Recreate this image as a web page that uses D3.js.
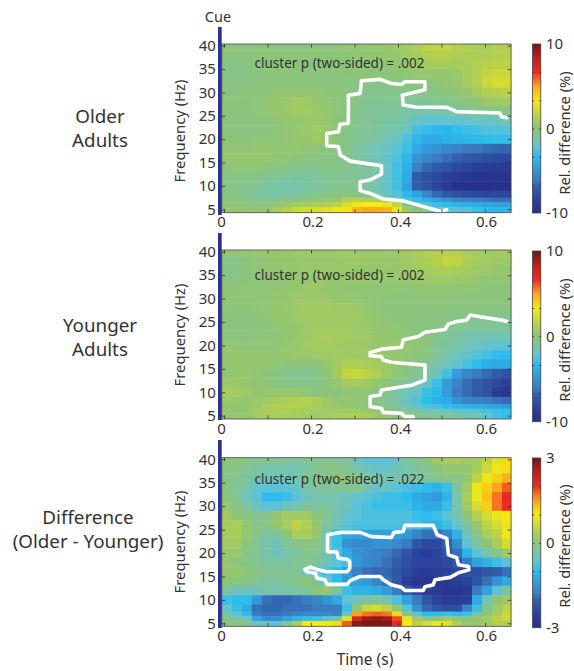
<!DOCTYPE html>
<html><head><meta charset="utf-8">
<script src="https://cdn.jsdelivr.net/npm/d3@7/dist/d3.min.js"></script>
<style>html,body{margin:0;padding:0;background:#fff}svg{display:block}text{font-family:"Noto Sans",sans-serif;fill:#333}</style>
</head><body><svg id="c" width="574" height="671"></svg>
<script>
const timeEdges=[-.005,.018,.041,.064,.087,.11,.133,.156,.179,.202,.225,.248,.271,.294,.317,.34,.363,.386,.409,.432,.455,.478,.501,.524,.547,.57,.593,.616,.639,.66];
const freqEdges=[40.35,39,37,35,33,31,29,27,25,23,21,19,17,15,13,11,9,7.5,6.5,5.5,4.3];
const xTicks=[0,.1,.2,.3,.4,.5,.6];
const xTickLabels=[0,.2,.4,.6];
const yTicks=[5,10,15,20,25,30,35,40];
const older=[
[0,0,0,0,0,0,0,0,0,0,0,0,.2,.2,.3,.3,.4,.5,.7,1,1.6,1.8,1.8,1.5,1.2,1,1,1.2,1.4],
[0,-.2,-.2,0,0,0,0,0,0,0,0,0,.1,.2,.2,.2,.3,.4,.6,.9,1.3,1.5,1.4,1.2,1.1,1.1,1.2,1.4,1.4],
[-.3,-.3,-.2,-.2,0,0,0,0,-.1,-.1,0,0,0,0,0,0,.1,.2,.4,.6,.8,.9,.9,.9,1,1.3,1.5,1.6,1.6],
[-.3,-.3,-.2,-.2,-.1,0,0,0,-.1,-.1,-.1,0,0,0,0,0,0,0,.1,.3,.4,.3,.3,.5,.9,1.3,1.8,2,2],
[-.2,-.2,-.2,-.1,0,0,0,0,0,-.1,-.1,-.1,-.2,-.2,-.3,-.4,-.3,-.2,-.2,0,0,.1,.2,.4,.8,1.3,2,2.3,2.3],
[-.1,-.1,0,0,0,.2,.2,.2,.2,.2,0,0,-.2,-.3,-.5,-.5,-.5,-.5,-.5,-.4,-.4,-.3,-.1,0,.3,.8,1.2,1.4,1.5],
[0,0,0,.1,.2,.4,.5,.7,.6,.4,.2,.1,-.2,-.4,-.6,-.7,-.7,-.7,-.8,-.8,-.7,-.6,-.5,-.3,-.1,.2,.5,.6,.7],
[0,0,0,.1,.2,.3,.5,.7,.7,.5,.3,.1,-.1,-.4,-.7,-.8,-.9,-1,-1.1,-1.3,-1.3,-1.3,-1.2,-1,-.8,-.6,-.5,-.4,-.3],
[0,-.1,-.1,0,0,.2,.3,.4,.5,.5,.3,0,-.2,-.5,-.8,-1,-1,-1.1,-1.4,-2,-2.2,-2.2,-2.2,-2.1,-2,-1.9,-1.8,-1.7,-1.6],
[-.1,-.1,-.1,-.1,0,.1,.2,.3,.5,.7,.5,.1,-.3,-.6,-.9,-1,-1.2,-1.3,-1.9,-2.8,-3.2,-3.4,-3.6,-3.3,-3,-2.8,-2.6,-2.5,-2.4],
[0,0,0,.1,.1,.1,.2,.3,.4,.6,.3,0,-.4,-.7,-1,-1.1,-1.5,-1.9,-2.6,-3.5,-4,-4,-3.7,-3.6,-3.5,-3.4,-3.3,-3.2,-3.2],
[.2,.2,.2,.3,.3,.3,.3,.3,.2,.1,0,-.2,-.5,-1,-1.4,-1.6,-1.9,-2.3,-3,-4,-4.6,-5,-5.4,-5.7,-6,-6.2,-6.4,-6.6,-6.7],
[.3,.4,.4,.4,.3,.2,.1,0,-.1,-.2,-.3,-.4,-.5,-.9,-1.2,-1.5,-2,-2.6,-3.5,-4.8,-5.5,-6,-6.4,-6.8,-7.1,-7.4,-7.7,-7.9,-8],
[0,.1,.1,.1,0,-.2,-.3,-.5,-.6,-.5,-.4,-.4,-.5,-.8,-1,-1.2,-1.9,-2.8,-3.8,-5.8,-6.6,-7,-7.4,-7.9,-8.3,-8.6,-8.8,-8.9,-9],
[-.3,-.3,-.3,-.4,-.6,-.8,-.9,-1,-1,-.9,-.7,-.6,-.7,-.8,-1,-1.3,-1.9,-2.8,-4,-7,-7.6,-8,-8.6,-9,-9.3,-9.5,-9.6,-9.6,-9.6],
[-.3,-.4,-.5,-.8,-1,-1.2,-1.3,-1.2,-1.1,-1,-.8,-.7,-.6,-.7,-1,-1.4,-2,-2.9,-4.2,-7,-7.6,-8.2,-9,-9.8,-10,-10,-10,-9.8,-9.8],
[-.2,-.4,-.5,-.8,-1.1,-1.2,-1.1,-1,-.8,-.6,-.4,-.3,-.3,-.4,-.7,-1.1,-1.7,-2.5,-3.5,-4.2,-5.5,-6.6,-7.2,-7.5,-7.8,-8,-8.1,-8.1,-8.1],
[-.1,-.2,-.3,-.5,-.6,-.5,-.3,-.1,0,.2,.3,.4,1.4,1.6,1.4,1.2,.7,-1.2,-2.5,-3.2,-3.8,-4.4,-5,-5.5,-5.8,-6,-6.2,-6.4,-6.4],
[0,0,0,-.1,-.1,.2,.5,.7,.9,1.1,1.2,1.6,2.4,3,3.3,3.3,3,1.8,-.7,-1.8,-2.6,-3,-3.3,-3.6,-3.8,-4,-4.2,-4.3,-4.3],
[.3,.3,.2,.2,.3,.8,1.5,2,2.2,2.4,2.6,3,3.5,4.5,4.8,4.8,4.6,3,.8,0,-.9,-1.7,-2,-2.3,-2.5,-3,-3.4,-3.5,-3.5]];
const younger=[
[.3,.2,.2,.3,.4,.4,.4,.5,.5,.5,.5,.6,.6,.6,.5,.5,.5,.6,.8,1,1.2,1.3,1.4,1.4,1,.8,.7,.7,.8],
[-.3,-.3,0,.1,.2,.3,.4,.4,.5,.5,.5,.5,.6,.6,.5,.5,.5,.5,.7,.9,1.1,1.4,1.8,1.8,1.2,.9,.7,.6,.6],
[-.4,-.4,-.1,.1,.2,.2,.3,.4,.5,.5,.5,.5,.5,.4,.4,.4,.4,.4,.5,.7,.9,1,1.1,1,.8,.6,.5,.4,.4],
[-.2,-.2,0,.1,.1,.1,.2,.3,.4,.5,.4,.3,.4,.4,.4,.3,.3,.3,.3,.5,.6,.6,.6,.5,.5,.3,.2,.2,.2],
[0,0,.1,.1,.1,.2,.3,.4,.5,.5,.4,.3,.2,.2,.2,.2,.2,.1,.1,.2,.2,.2,.2,.2,.1,.1,0,0,0],
[.1,.1,.1,.1,.2,.3,.4,.5,.6,.6,.5,.4,.4,.3,.2,.1,0,0,0,0,0,0,0,0,0,0,0,-.1,-.1],
[.1,0,0,.1,.2,.4,.5,.6,.7,.7,.7,.6,.6,.5,.3,.1,0,0,-.1,-.1,-.1,-.1,-.1,-.2,-.2,-.2,-.2,-.2,-.2],
[0,-.1,-.1,0,.1,.3,.4,.6,.7,.7,.7,.7,.7,.6,.4,.2,.1,0,0,-.1,-.2,-.2,-.3,-.3,-.4,-.5,-.5,-.5,-.5],
[-.1,-.2,-.2,-.1,0,.2,.3,.4,.6,.7,.7,.7,.7,.6,.5,.3,.2,.1,0,-.1,-.2,-.3,-.5,-.6,-.7,-.8,-.8,-.8,-.8],
[0,-.1,-.1,0,0,.1,.3,.4,.6,.8,.9,.8,.8,.7,.6,.4,.3,.2,.1,0,-.2,-.5,-.8,-1,-1.2,-1.3,-1.4,-1.5,-1.5],
[.2,.1,.1,.1,.1,.2,.3,.5,.7,.8,.8,.7,.6,.6,.5,.4,.4,.3,.2,.1,-.1,-.6,-1,-1.3,-1.6,-1.8,-2,-2.2,-2.3],
[.3,.3,.3,.3,.3,.3,.4,.5,.5,.6,.6,.7,.7,.6,.6,.5,.4,.3,.1,0,-.3,-.8,-1.2,-1.6,-2,-2.5,-2.8,-3.2,-3.3],
[.3,.4,.4,.4,.4,.2,0,-.1,-.1,0,.3,.8,1.2,1.2,1,.8,.6,.3,0,-.3,-.7,-1.2,-1.6,-2.1,-2.7,-3.3,-3.8,-4,-4],
[.2,.3,.3,.2,0,-.2,-.5,-.7,-.7,-.5,0,.8,1.8,1.9,1.7,1.2,.6,.1,-.3,-.7,-1.1,-1.7,-2.8,-4.5,-5.5,-6,-6.5,-7,-7.5],
[.5,.5,.4,.2,0,-.2,-.3,-.4,-.5,-.5,-.2,.3,.8,.9,.7,.4,.1,-.4,-.8,-1.2,-1.9,-3,-4.5,-5.5,-6.5,-7,-7.5,-8,-8.5],
[1,.8,.6,.3,.2,.3,.4,.3,.1,0,0,0,.2,.2,.1,-.1,-.5,-1,-1.5,-2,-3,-3.5,-4.5,-6,-6.5,-7,-7.5,-8.8,-9.3],
[.6,.4,.4,.5,.7,.9,1.1,1.3,1.4,1,.6,.4,.3,.2,0,-.3,-.7,-1.2,-1.7,-2.5,-3.3,-3.8,-4,-5,-5.5,-5.8,-6,-6.3,-6.5],
[.2,.2,.3,.6,1,1.2,1.4,1.4,1.2,1,.7,.5,.4,.2,0,-.2,-.5,-1,-1.5,-2,-2.5,-2.8,-3.2,-3.5,-3.6,-3.8,-4,-4.2,-4.5],
[.3,.3,.4,.8,1.1,1.2,1.1,1,.9,.8,.7,.7,.7,.6,.4,.2,0,-.3,-.7,-1,-1.4,-1.6,-1.8,-2,-2.2,-2.4,-2.6,-3,-3.2],
[.3,.3,.4,.7,.9,1,.9,.8,.7,.7,.8,1,1.2,1.3,1,.6,.3,0,-.2,-.4,-.6,-.7,-.8,-1,-1.4,-1.6,-2,-2.8,-3.2]];
const difference=[
[0,0,-.1,-.2,-.2,-.2,-.3,-.3,-.2,-.2,-.2,-.2,-.3,-.5,-.7,-.7,-.7,-.6,-.3,-.2,0,.2,.3,.3,.2,.3,.5,.8,1.1],
[-.1,-.1,-.2,-.3,-.4,-.4,-.4,-.4,-.3,-.2,-.1,-.1,-.2,-.4,-.5,-.6,-.6,-.5,-.4,-.3,-.2,0,.1,.1,.1,.3,.6,.9,1.1],
[-.1,-.2,-.3,-.4,-.5,-.5,-.5,-.4,-.2,-.1,-.1,0,0,-.1,-.3,-.4,-.4,-.4,-.4,-.3,-.2,-.2,-.1,-.1,.1,.5,.9,1.2,1.4],
[-.1,-.2,-.4,-.6,-.7,-.7,-.7,-.6,-.4,-.3,-.3,-.2,-.2,-.2,-.4,-.6,-.6,-.7,-.8,-.9,-1,-1.1,-.9,-.3,.2,.9,1.2,1.5,1.8],
[0,-.2,-.5,-.7,-1,-1,-.9,-.7,-.5,-.4,-.4,-.4,-.5,-.6,-.7,-.8,-.9,-.9,-1,-1.2,-1.3,-1.4,-1.1,-.4,.3,.9,1.3,1.7,2.1],
[.1,-.1,-.3,-.5,-.7,-.7,-.5,-.4,-.3,-.3,-.3,-.4,-.5,-.7,-.8,-.9,-.9,-.9,-.9,-1.1,-1.2,-1.2,-.9,-.4,.2,.7,1.2,1.7,2],
[.2,0,-.1,-.2,-.1,.1,.2,.2,.2,0,-.2,-.4,-.6,-.7,-.8,-.8,-.8,-.8,-.8,-.9,-1,-.9,-.7,-.4,0,.4,.7,.9,1],
[.3,.3,.1,-.1,-.1,.1,.3,.5,.4,.1,-.3,-.5,-.7,-.8,-.8,-.8,-.8,-.8,-.8,-.9,-1.1,-1.1,-.9,-.6,-.3,.1,.5,.7,.9],
[.3,.3,.1,-.1,-.3,-.3,0,.3,.3,.1,-.4,-.9,-1.2,-1.3,-1.3,-1.3,-1.3,-1.3,-1.4,-1.7,-1.9,-1.9,-1.7,-1.1,-.5,-.1,.3,.5,.9],
[.2,.2,0,-.2,-.4,-.5,-.3,-.1,0,-.1,-.4,-.9,-1.5,-1.6,-1.6,-1.5,-1.5,-1.6,-1.8,-2.2,-2.4,-2.4,-2.1,-1.6,-.7,-.3,0,.3,.7],
[.1,.1,-.1,-.2,-.4,-.5,-.4,-.3,-.2,-.2,-.4,-.8,-1.2,-1.5,-1.6,-1.7,-1.8,-2,-2.2,-2.5,-2.6,-2.5,-2.3,-1.9,-1.1,-.7,-.4,-.1,.2],
[.1,0,-.1,-.2,-.3,-.3,-.3,-.2,-.2,-.3,-.5,-.7,-.9,-1.4,-1.6,-1.7,-1.9,-2.1,-2.3,-2.5,-2.5,-2.5,-2.4,-2.2,-1.8,-1.3,-1.1,-.9,-.7],
[.1,.1,0,-.1,-.2,-.2,-.2,-.2,-.5,-.7,-.8,-1,-1.4,-1.7,-1.9,-2,-2,-2.2,-2.4,-2.6,-2.7,-2.6,-2.5,-2.4,-2.3,-2.3,-2.2,-2.1,-1.9],
[0,0,-.1,-.2,-.3,-.3,-.2,-.1,0,-.3,-.6,-1,-1.4,-1.3,-1.4,-1.7,-1.9,-2.2,-2.6,-2.8,-2.8,-2.8,-2.7,-2.6,-2.5,-2.2,-1.9,-1.5,-1.2],
[-.3,-.5,-.5,-.5,-.4,-.4,-.4,-.3,-.2,0,.1,-.3,-.9,-1.1,-1.1,-1.2,-1.4,-1.8,-2.1,-2.4,-2.6,-2.7,-2.8,-2.8,-2.7,-1.8,-1.3,-.7,-.3],
[-.9,-1,-1,-1.4,-1.9,-2,-2,-1.9,-1.8,-1.7,-1.5,-1.2,-.7,-.5,-.3,-.3,-.4,-.8,-1.3,-1.8,-2.2,-2.5,-2.7,-2.7,-2.6,-1.2,-.5,0,.2],
[-.6,-.9,-1.2,-1.9,-2,-2,-1.9,-1.9,-1.9,-1.8,-1.8,-1.8,-.9,.1,.6,.7,.5,.1,-.7,-1.5,-2,-2.2,-2.3,-2.3,-1.7,-.9,-.2,.2,.5],
[-.4,-.7,-1,-1.8,-1.9,-1.9,-1.8,-1.7,-1.6,-1.6,-1.6,-1.7,-.5,1.5,1.7,1.8,1.7,1.1,-.1,-.6,-1,-1,-.9,-1,-.9,-.4,0,.3,.6],
[-.2,-.3,-.5,-1.3,-1.6,-1.6,-1.3,-1.1,-1,-.9,-.7,-.4,.8,2.2,2.7,2.8,2.7,1.9,.9,.2,-.1,0,.2,.1,0,.1,.2,.5,.6],
[0,0,-.2,-.5,-.6,-.7,-.2,.3,1,1,1,1.1,1.8,2.8,2.9,2.9,2.9,2.1,1,.5,.7,.9,.8,.4,.1,.1,.2,.4,.4]];
const contourOlder=[[.65,24.6],[.638,24.8],[.634,25.6],[.535,25.9],[.512,26.8],[.439,26.9],[.412,27.3],[.41,29.4],[.462,30.6],[.462,32.3],[.416,32.3],[.408,31.7],[.385,31.9],[.359,32.8],[.316,32.5],[.313,29.8],[.286,29.4],[.286,23.4],[.267,23.2],[.263,21.6],[.236,21.2],[.236,18.6],[.263,18.4],[.267,16.6],[.29,15.3],[.362,14.3],[.362,12.5],[.336,11.3],[.313,10.9],[.313,9],[.336,8.4],[.366,7.2],[.412,6.8],[.466,5.4],[.497,4.6],[.512,4.9]];
const contourYounger=[[.65,25.1],[.638,25.4],[.588,26.1],[.566,26.5],[.558,25.4],[.535,25.1],[.516,24.6],[.508,23.4],[.462,22.8],[.447,21.9],[.412,21.2],[.408,19.6],[.362,19.2],[.336,18.5],[.336,17.8],[.362,17.6],[.366,16.9],[.385,16.4],[.462,15.8],[.462,12.6],[.431,11.5],[.362,10.5],[.359,9.4],[.336,9.1],[.336,6.9],[.362,6.6],[.366,5.7],[.408,5.5],[.416,4.8],[.435,4.8]];
const contourDifference=[[.186,16.5],[.198,17],[.214,16.5],[.237,16],[.283,16],[.289,16.7],[.289,18.2],[.282,18.7],[.263,18.9],[.259,20.2],[.238,20.3],[.238,23.9],[.267,24.4],[.313,24.4],[.339,23.5],[.385,23.3],[.391,24.4],[.412,24.6],[.416,25.9],[.481,25.9],[.49,23.9],[.512,23.1],[.516,19.6],[.535,19],[.539,17.5],[.562,17.1],[.563,16.4],[.539,15.8],[.52,14.8],[.485,14.3],[.481,13.2],[.462,12.8],[.458,12],[.416,12],[.408,12.7],[.385,13.2],[.366,14.3],[.359,15],[.313,15],[.29,14.1],[.283,13.3],[.237,13.3],[.232,14.3],[.214,14.6],[.21,15.7],[.19,16],[.186,16.5]];
const panelLabels=[["Older","Adults"],["Younger","Adults"],["Difference","(Older - Younger)"]];
const pValues=[".002",".002",".022"];
const colorStops=[-1,-.85,-.7,-.6,-.42,-.33,-.22,-.1,0,.15,.33,.5,.67,.85,1];
const colorValues=["#27308a","#2a409a","#305ca8","#3a7cc2","#2fa5e0","#2dbdec","#62c3d4","#7dc49e","#8cc47a","#b7d14a","#f8ea14","#f9a51c","#ee2a24","#b81f1e","#6e1712"];

const svg=d3.select("#c");
const colorNorm=d3.scaleLinear().domain(colorStops).range(colorValues).clamp(true);
const defs=svg.append("defs");
const grad=defs.append("linearGradient").attr("id","cb").attr("x1",0).attr("x2",0).attr("y1",1).attr("y2",0);
colorStops.forEach((s,i)=>grad.append("stop").attr("offset",(s+1)/2).attr("stop-color",colorValues[i]));
const lineCol="#444";
const font='"Noto Sans"';
const tickShift=new Map([[0,-3],[.2,1.5],[.4,2],[.6,1]]);

function panel(o){
  const g=svg.append("g");
  const x=d3.scaleLinear().domain([0,.6]).range([224,485]);
  const y=d3.scaleLinear().domain([5,40]).range([o.y5,o.y40]);
  const L=x(-.005),R=x(.66),T=o.top,B=o.bottom;
  const cid="clip"+o.i;
  defs.append("clipPath").attr("id",cid).append("rect").attr("x",L).attr("y",T).attr("width",R-L).attr("height",B-T);
  const cells=g.append("g").attr("clip-path",`url(#${cid})`);
  o.data.forEach((row,r)=>{
    const y0=Math.max(T,y(freqEdges[r])),y1=Math.min(B,y(freqEdges[r+1]));
    cells.selectAll(null).data(row).join("rect")
      .attr("x",(d,c)=>x(timeEdges[c])).attr("width",(d,c)=>x(timeEdges[c+1])-x(timeEdges[c])+.5)
      .attr("y",y0).attr("height",y1-y0+.5)
      .attr("fill",d=>colorNorm(d/o.range));
  });
  const line=d3.line().x(d=>x(d[0])).y(d=>y(d[1]));
  cells.append("path").attr("d",line(o.contour)).attr("fill","none").attr("stroke","#fff").attr("stroke-width",3.6).attr("stroke-linejoin","round").attr("stroke-linecap","round");
  g.append("rect").attr("x",L).attr("y",T).attr("width",R-L).attr("height",B-T).attr("fill","none").attr("stroke",lineCol).attr("stroke-width",.8);
  const style=a=>{a.select(".domain").remove();a.selectAll("line").attr("stroke","#333").attr("stroke-width",.8);a.selectAll("text").attr("font-size",15).attr("fill","#333").attr("font-family",font);};
  g.append("g").attr("transform",`translate(0,${B})`).call(d3.axisBottom(x).tickValues(xTicks).tickSize(-3.5).tickPadding(4).tickFormat(d=>xTickLabels.includes(d)?(d===0?"0":d3.format(".1f")(d)):"")).call(style).selectAll("text").attr("dx",d=>tickShift.get(d)||0);
  g.append("g").attr("transform",`translate(0,${T})`).call(d3.axisTop(x).tickValues(xTicks).tickSize(-3.5).tickFormat("")).call(style);
  g.append("g").attr("transform",`translate(${L},0)`).call(d3.axisLeft(y).tickValues(yTicks).tickSize(-3.5).tickPadding(6)).call(style);
  g.append("g").attr("transform",`translate(${R},0)`).call(d3.axisRight(y).tickValues(yTicks).tickSize(-3.5).tickFormat("")).call(style);
  g.append("rect").attr("x",218).attr("width",3.7).attr("y",o.cueTop).attr("height",o.cueBottom-o.cueTop).attr("fill","#2e3192");
  g.append("text").attr("x",180).attr("y",o.fy).attr("transform",`rotate(-90,180,${o.fy})`).attr("text-anchor","middle").attr("dy",".35em").attr("font-size",14.8).text("Frequency (Hz)");
  g.append("text").attr("x",254.5).attr("y",o.ann).attr("font-size",13.5).text(`cluster p (two-sided) = ${pValues[o.i]}`);
  const cy=d3.scaleLinear().domain([-o.range,o.range]).range([o.cbB,o.cbT]);
  g.append("rect").attr("x",532.5).attr("width",8.3).attr("y",o.cbT).attr("height",o.cbB-o.cbT).attr("fill","url(#cb)").attr("stroke",lineCol).attr("stroke-width",.8);
  const mid=[-2,-1,1,2].map(k=>k*o.range/3);
  [532.5,540.8].forEach((px,i)=>{
    g.append("g").attr("transform",`translate(${px},0)`).call((i?d3.axisRight(cy):d3.axisLeft(cy)).tickValues([...mid,0]).tickSize(-1.8).tickFormat("")).call(style);
  });
  g.append("g").attr("transform","translate(546,0)").call(d3.axisRight(cy).tickValues([-o.range,0,o.range]).tickSize(0).tickPadding(0).tickFormat(d=>d)).call(style).selectAll("text").attr("font-size",15).text(d=>d<0?"-"+(-d):d);
  g.append("text").attr("x",565).attr("y",o.rely).attr("transform",`rotate(-90,565,${o.rely})`).attr("text-anchor","middle").attr("dy",".35em").attr("font-size",14.7).text("Rel. difference (%)");
  const lab=g.append("g").attr("text-anchor","middle");
  panelLabels[o.i].forEach((t,k)=>lab.append("text").attr("x",o.labX).attr("y",o.labY[k]).attr("font-size",o.labSize).text(t));
}
panel({i:0,data:older,range:10,contour:contourOlder,top:44,bottom:212.7,y40:45.7,y5:209.3,cueTop:27,cueBottom:215,fy:131,ann:68,cbT:44,cbB:213,rely:133,labX:100,labY:[123,146.7],labSize:18.8});
panel({i:1,data:younger,range:10,contour:contourYounger,top:250,bottom:419,y40:251.7,y5:415.7,cueTop:233,cueBottom:420,fy:335,ann:280,cbT:251,cbB:421.7,rely:340,labX:100,labY:[332,356],labSize:18.8});
panel({i:2,data:difference,range:3,contour:contourDifference,top:457.7,bottom:626.3,y40:459.3,y5:623.3,cueTop:440,cueBottom:628,fy:542,ann:484,cbT:458,cbB:627.7,rely:546,labX:88,labY:[524,548],labSize:18.8});
svg.append("text").attr("x",218).attr("y",21.5).attr("text-anchor","middle").attr("font-size",14.5).text("Cue");
svg.append("text").attr("x",365).attr("y",665).attr("text-anchor","middle").attr("font-size",15.5).text("Time (s)");
</script></body></html>
